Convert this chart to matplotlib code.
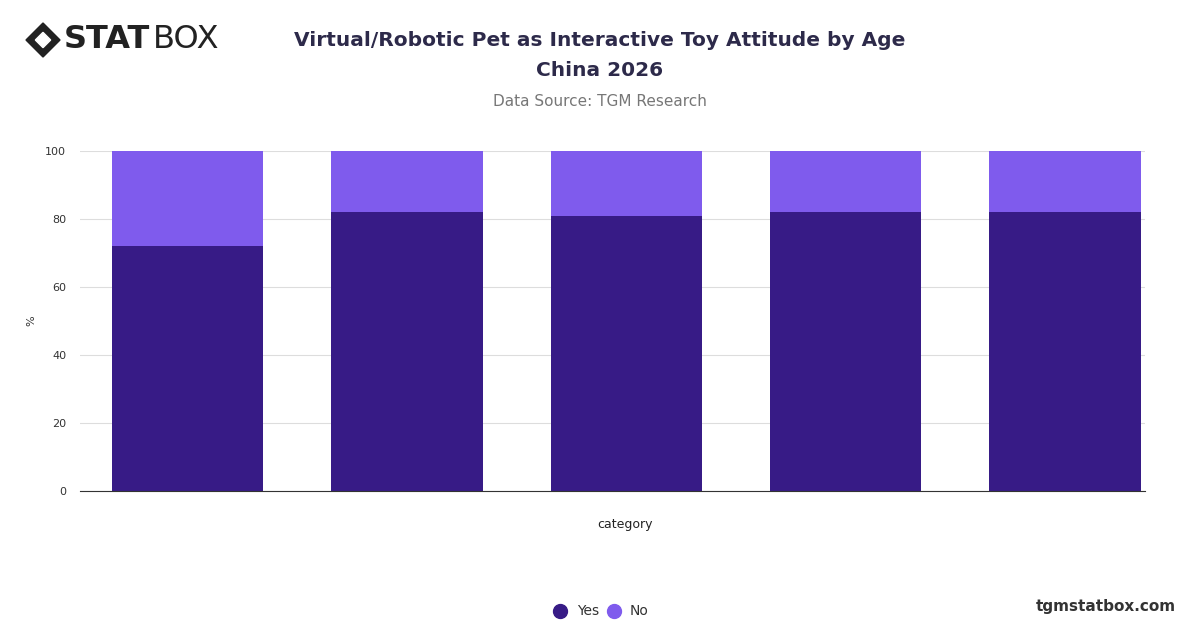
import matplotlib.pyplot as plt
from matplotlib.patches import Polygon

# ── Data ─────────────────────────────────────────────────────────────
categories = ["", "", "", "", ""]
yes_vals = [72, 82, 81, 82, 82]
no_vals = [28, 18, 19, 18, 18]

YES_COLOR = "#371b86"
NO_COLOR = "#7f5bed"

fig = plt.figure(figsize=(12, 6.28), dpi=100)
ax = fig.add_axes([80 / 1200, 1 - 491 / 628, 1065 / 1200, 340 / 628])

x = list(range(len(categories)))
ax.bar(x, yes_vals, width=0.69, color=YES_COLOR, zorder=2)
ax.bar(x, no_vals, width=0.69, bottom=yes_vals, color=NO_COLOR, zorder=2)

ax.set_xlim(-0.49, 4.365)
ax.set_ylim(0, 100)
ax.set_yticks([0, 20, 40, 60, 80, 100])
ax.set_xticks([])
ax.tick_params(axis="y", length=0, labelsize=8, colors="#333333", pad=10)
ax.grid(axis="y", color="#dddddd", linewidth=0.8, zorder=0)
for s in ["top", "right", "left"]:
    ax.spines[s].set_visible(False)
ax.spines["bottom"].set_color("#333333")
ax.set_ylabel("%", fontsize=8, color="#333333", labelpad=6)
ax.set_xlabel("category", fontsize=9, color="#222222")
ax.xaxis.set_label_coords((625 - 80) / 1065, -(518 - 491) / 340)

# ── Titles ───────────────────────────────────────────────────────────
fig.text(0.5, 1 - 40 / 628, "Virtual/Robotic Pet as Interactive Toy Attitude by Age",
         ha="center", va="center", fontsize=14.5, fontweight="bold", color="#2d2a4a")
fig.text(0.5, 1 - 71 / 628, "China 2026", ha="center", va="center",
         fontsize=14.5, fontweight="bold", color="#2d2a4a")
fig.text(0.5, 1 - 101 / 628, "Data Source: TGM Research", ha="center", va="center",
         fontsize=11, color="#777777")

# ── Logo ─────────────────────────────────────────────────────────────
cx, cy, r = 43 / 1200, 1 - 40 / 628, 17
dx, dy = r / 1200, r / 628
fig.patches.append(Polygon([(cx - dx, cy), (cx, cy + dy), (cx + dx, cy), (cx, cy - dy)],
                           closed=True, transform=fig.transFigure, color="#222222"))
dx2, dy2 = dx * 0.45, dy * 0.45
fig.patches.append(Polygon([(cx - dx2, cy), (cx, cy + dy2), (cx + dx2, cy), (cx, cy - dy2)],
                           closed=True, transform=fig.transFigure, color="white"))
fig.text(64 / 1200, cy, "STAT", ha="left", va="center", fontsize=23,
         fontweight="heavy", color="#222222")
fig.text(153 / 1200, cy, "BOX", ha="left", va="center", fontsize=23, color="#222222")

# ── Legend ───────────────────────────────────────────────────────────
ly = 1 - 611 / 628
fig.lines.append(plt.Line2D([560 / 1200], [ly], marker="o", markersize=10,
                            color=YES_COLOR, transform=fig.transFigure))
fig.text(577 / 1200, ly, "Yes", va="center", fontsize=10, color="#333333")
fig.lines.append(plt.Line2D([614 / 1200], [ly], marker="o", markersize=10,
                            color=NO_COLOR, transform=fig.transFigure))
fig.text(630 / 1200, ly, "No", va="center", fontsize=10, color="#333333")

fig.text(1176 / 1200, 1 - 606 / 628, "tgmstatbox.com", ha="right", va="center",
         fontsize=11, fontweight="bold", color="#333333")

fig.savefig("out.png", dpi=100)
